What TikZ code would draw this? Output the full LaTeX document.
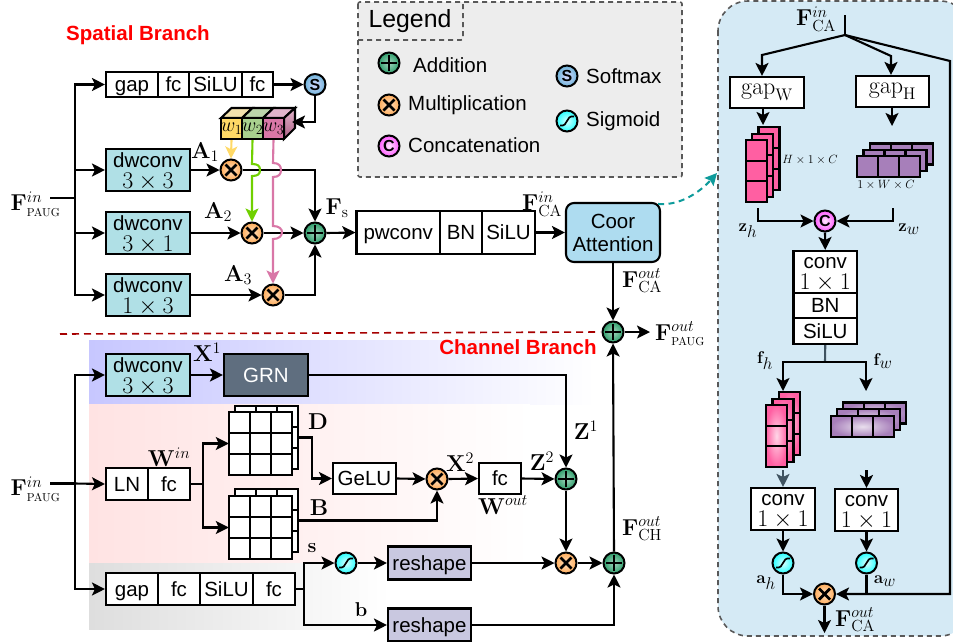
\documentclass[tikz,border=0pt]{standalone}
\usepackage{fix-cm}
\usepackage[no-math]{fontspec}
\setsansfont{Liberation Sans}
\usetikzlibrary{arrows.meta,shapes.geometric}
\newcommand\fsz[1]{\fontsize{#1}{#1}\selectfont}
\newcommand\twol[2]{\rule{0pt}{17pt}#1\\{\fontsize{24}{21}\selectfont$#2$}}
\newcommand\twolc[2]{\rule{0pt}{15pt}#1\\{\fontsize{24}{21}\selectfont$#2$}}
\definecolor{tealb}{HTML}{B0E0E6}
\definecolor{resh}{HTML}{C9C8E0}
\definecolor{pinkc}{HTML}{FF5FA2}
\definecolor{purpc}{HTML}{A77FBA}
\definecolor{panelc}{HTML}{D5EAF5}
\definecolor{addg}{HTML}{2E9E6B}
\definecolor{wyel}{HTML}{FFD966}
\definecolor{wgrn}{HTML}{A9D18E}
\definecolor{wpnk}{HTML}{D977A7}
\definecolor{argrn}{HTML}{70D000}
\definecolor{grnc}{HTML}{5F6E7F}
\definecolor{coorc}{HTML}{AEDCF0}
\definecolor{slate}{HTML}{3F5360}
\definecolor{tealc}{HTML}{0E9B9B}
\tikzset{
 ln/.style={line width=2.1pt,black},
 ar/.style={ln,-{Stealth[length=13pt,width=13pt,inset=3pt]}},
 bx/.style={draw,line width=2.1pt,fill=white,font=\sffamily\fsz{20.5},inner sep=0pt,align=center,text=black},
 bxa/.style={bx,text height=14pt,text depth=0pt},
 tealbox/.style={bx,fill=tealb,minimum width=84,minimum height=42,font=\sffamily\fontsize{20.5}{21}\selectfont},
 convbox/.style={bx,font=\sffamily\fontsize{20.5}{21}\selectfont},
 reshbox/.style={bxa,fill=resh,minimum width=83,minimum height=33},
 lab/.style={font=\fsz{23},inner sep=0pt},
 small/.style={font=\fsz{17},inner sep=0pt},
 txt/.style={font=\sffamily\fsz{20.5},inner sep=0pt,anchor=base west},
 redt/.style={font=\sffamily\bfseries\fsz{20.5},text=red,inner sep=0pt},
 sym/.style={line width=2.8pt,black},
 opc/.style={circle,draw,line width=2pt,minimum size=21pt,inner sep=0pt,shading=radial},
 opadd/.style={opc,inner color=addg!45!white,outer color=addg,path picture={\draw[sym,shift={(path picture bounding box.center)}] (-8,0)--(8,0) (0,-8)--(0,8);}},
 opmul/.style={opc,inner color=orange!25!white,outer color=orange!65!white,path picture={\draw[sym,shift={(path picture bounding box.center)}] (-5.5,-5.5)--(5.5,5.5) (-5.5,5.5)--(5.5,-5.5);}},
 opsig/.style={opc,inner color=cyan!15!white,outer color=cyan!85!white,path picture={\draw[line width=1.7pt,black,shift={(path picture bounding box.center)}] (-7,4.5) .. controls (2,6) and (-2,-6) .. (7,-4.5);}},
 ops/.style={opc,inner color=blue!15!white,outer color=blue!35!cyan!50!white!85!black,font=\sffamily\bfseries\fsz{16}},
 opcc/.style={opc,inner color=magenta!10!white,outer color=magenta!65!white,font=\sffamily\bfseries\fsz{16}},
 dsh/.style={dash pattern=on 5pt off 4pt,line width=1.6pt,draw=black!65},
 cell/.style={draw,line width=2.1pt},
}
% layer: style, x, y, cols, rows, cell width, cell height
\newcommand\layer[7]{%
 \path[#1,cell] (#2,#3) rectangle +({#4*#6},{#5*#7});
 \foreach \ci in {1,...,#4}{\ifnum\ci<#4\relax\draw[cell] ({#2+\ci*#6},#3) -- +(0,{#5*#7});\fi}
 \foreach \ci in {1,...,#5}{\ifnum\ci<#5\relax\draw[cell] (#2,{#3+\ci*#7}) -- +({#4*#6},0);\fi}
}
\begin{document}
\begin{tikzpicture}[x=1pt,y=-1pt]
\useasboundingbox (0,0) rectangle (953,641);
\clip (0,0) rectangle (953,641);
% backgrounds
\shade[left color=blue!22!white,right color=white] (89,340) rectangle (595,404);
\shade[left color=red!11!white,right color=white] (89,404) rectangle (530,563);
\shade[left color=black!13!white,right color=white] (89,563) rectangle (390,629);
\draw[dsh,fill=panelc,rounded corners=30pt] (718,1) rectangle (970,636);
\draw[dsh,fill=black!7,rounded corners=2pt] (358,2) rectangle (682,177);
\draw[dsh,rounded corners=2pt] (358,40) -- (463,40) -- (463,2);
\draw[draw=red!65!black,line width=1.6pt,dash pattern=on 7pt off 5pt] (60,334) -- (600,332);
% titles
\node[redt] (tsp) at (138,35) {Spatial Branch};
\node[redt] (tch) at (518,347) {Channel Branch};
% legend
\node[font=\sffamily\fsz{24.8},inner sep=0pt,anchor=base] (legt) at (410,27) {Legend};
\node[opadd] (la) at (389,63) {};
\node[txt] at (413,72) {Addition};
\node[opmul] (lm) at (389,105) {};
\node[txt] at (408,110.7) {Multiplication};
\node[opcc] (lc) at (389,146) {C};
\node[txt] at (408,152.7) {Concatenation};
\node[ops] (ls) at (567,76) {S};
\node[txt] at (586,83) {Softmax};
\node[opsig] (lg) at (567,121) {};
\node[txt] at (586,126.7) {Sigmoid};
% === spatial branch ===
\node[lab] (fin1) at (35.5,204) {$\mathbf{F}^{in}_{\scriptscriptstyle\mathrm{PAUG}}$};
\coordinate (b1) at (75,198);
\coordinate (fi1) at (50,198);
\node[bxa,minimum width=52,minimum height=25.5] (s1) at (132,84.5) {gap};
\node[bxa,minimum width=31,minimum height=25.5] (s2) at (173.5,84.5) {fc};
\node[bxa,minimum width=53,minimum height=25.5] (s3) at (215.5,84.5) {SiLU};
\node[bxa,minimum width=31,minimum height=25.5] (s4) at (257.5,84.5) {fc};
\node[ops] (sm) at (315,84.5) {S};
\node[tealbox] (d1) at (148,170) {\twol{dwconv}{3\times3}};
\node[tealbox] (d2) at (148,233) {\twol{dwconv}{3\times1}};
\node[tealbox] (d3) at (148,295) {\twol{dwconv}{1\times3}};
\node[opmul] (m1) at (231,170) {};
\node[opmul] (m2) at (252,233) {};
\node[opmul] (m3) at (273,295) {};
\node[opadd] (a1) at (315,233) {};
\draw[ln] (fi1) -- (b1);
\draw[ar] (b1) |- (s1.west);
\draw[ar] (b1) |- (d1.west);
\draw[ar] (b1) |- (d2.west);
\draw[ar] (b1) |- (d3.west);
\draw[ar] (s4.east) -- (sm.west);
\draw[ar] (d1.east) -- (m1.west);
\draw[ar] (d2.east) -- (m2.west);
\draw[ar] (d3.east) -- (m3.west);
\draw[ar] (m1.east) -| (a1.north);
\draw[ar] (m2.east) -- (a1.west);
\draw[ar] (m3.east) -| (a1.south);
% cube
\draw[ln,fill=wyel!50!white!90!gray] (221,118) -- (231.5,108) -- (252.5,108) -- (242,118) -- cycle;
\draw[ln,fill=wgrn!70!white!90!gray] (242,118) -- (252.5,108) -- (273.5,108) -- (263,118) -- cycle;
\draw[ln,fill=wpnk!50!white!90!gray] (263,118) -- (273.5,108) -- (295,108) -- (284,118) -- cycle;
\shade[ln,draw,top color=wpnk!50!white!90!gray,bottom color=wpnk!80!black] (284,118) -- (295,108) -- (295,128) -- (284,139) -- cycle;
\node[draw,line width=2.1pt,fill=wyel,minimum width=21,minimum height=21,inner sep=0pt,font=\fsz{20}] (w1) at (231.5,128.5) {$w_1$};
\node[draw,line width=2.1pt,fill=wgrn,minimum width=21,minimum height=21,inner sep=0pt,font=\fsz{20}] (w2) at (252.5,128.5) {$w_2$};
\node[draw,line width=2.1pt,fill=wpnk,minimum width=21,minimum height=21,inner sep=0pt,font=\fsz{20}] (w3) at (273.5,128.5) {$w_3$};
\coordinate (cubein) at (292,122);
\draw[ar] (sm.south) |- (cubein);
\draw[ar,draw=wyel,-{Stealth[length=12pt,width=12pt,inset=3pt,fill=wyel]}] (w1.south) -- (m1.north);
\draw[ar,draw=argrn] (w2.south) -- (252,164) .. controls (258,164) and (260,166) .. (260,170) .. controls (260,174) and (258,176) .. (252,176) -- (m2.north);
\draw[ar,draw=wpnk] (w3.south) -- (273,163) .. controls (279,163) and (281,166) .. (281,170) .. controls (281,174) and (279,177) .. (273,177) -- (273,226) .. controls (279,226) and (282,229) .. (282,232) .. controls (282,236) and (279,239) .. (273,239) -- (m3.north);
\node[lab] (la1) at (205,152) {$\mathbf{A}_1$};
\node[lab] (la2) at (218,212) {$\mathbf{A}_2$};
\node[lab] (la3) at (238,275) {$\mathbf{A}_3$};
\node[lab] (lfs) at (337,208) {$\mathbf{F}_{\mathrm{s}}$};
% pwconv row
\node[bxa,minimum width=83.5,minimum height=43] (p1) at (398.25,232.5) {pwconv};
\node[bxa,minimum width=42,minimum height=43] (p2) at (461,232.5) {BN};
\node[bxa,minimum width=53,minimum height=43] (p3) at (508.5,232.5) {SiLU};
\draw[ar] (a1.east) -- (p1.west);
\node[bx,fill=coorc,rounded corners=8pt,minimum width=94,minimum height=59,font=\sffamily\fontsize{20.5}{23}\selectfont] (coor) at (613,232.5) {Coor\\Attention};
\draw[ar] (p3.east) -- (coor.west);
\node[lab] (lci) at (542,204) {$\mathbf{F}^{in}_{\mathrm{CA}}$};
\node[lab] (lco) at (642,281) {$\mathbf{F}^{out}_{\mathrm{CA}}$};
\node[opadd] (am) at (613,332) {};
\draw[ar] (coor.south) -- (am.north);
\coordinate (pout) at (650,332);
\draw[ar] (am.east) -- (pout);
\node[lab] (lpo) at (680,334) {$\mathbf{F}^{out}_{\scriptscriptstyle\mathrm{PAUG}}$};
\coordinate (panelin) at (717,173);
\draw[draw=tealc,line width=2pt,dash pattern=on 6pt off 4.5pt,-{Stealth[length=12pt,width=12pt,inset=2pt,fill=tealc]}] (coor.north east) ++(-3,2) .. controls (680,206) and (700,192) .. (panelin);
% === channel branch ===
\node[lab] (fin2) at (35.5,489) {$\mathbf{F}^{in}_{\scriptscriptstyle\mathrm{PAUG}}$};
\coordinate (fi2) at (50,483.5);
\coordinate (b2) at (75,483.5);
\node[tealbox] (c1) at (148,375) {\twol{dwconv}{3\times3}};
\node[bxa,fill=grnc,text=white,minimum width=84,minimum height=42] (grn) at (266,375) {GRN};
\node[bxa,minimum width=42,minimum height=32] (ln1) at (127,484) {LN};
\node[bxa,minimum width=42,minimum height=32] (fc1) at (169,484) {fc};
\draw[ln] (fi2) -- (b2);
\draw[ar] (b2) -- (ln1.west);
\node[bxa,minimum width=52,minimum height=32] (g1) at (132,589) {gap};
\node[bxa,minimum width=42,minimum height=32] (g2) at (179,589) {fc};
\node[bxa,minimum width=53,minimum height=32] (g3) at (226.5,589) {SiLU};
\node[bxa,minimum width=42,minimum height=32] (g4) at (274,589) {fc};
\draw[ar] (b2) |- (c1.west);
\draw[ar] (b2) |- (g1.west);
\draw[ar] (c1.east) -- (grn.west);
\node[lab] (lx1) at (207,352) {$\mathbf{X}^1$};
\node[lab] (lwi) at (169,457) {$\mathbf{W}^{in}$};
% D, B grids
\node[draw=none,minimum width=63,minimum height=63,inner sep=0pt] (Db) at (266.5,437.5) {};
\node[draw=none,minimum width=63,minimum height=63,inner sep=0pt] (Bb) at (266.5,520.5) {};
\node[draw=none,minimum width=63,minimum height=63,inner sep=0pt] (Df) at (260.5,443.5) {};
\node[draw=none,minimum width=63,minimum height=63,inner sep=0pt] (Bf) at (260.5,527.5) {};
\layer{fill=white}{235}{406}{3}{3}{21}{21}
\layer{fill=white}{229}{412}{3}{3}{21}{21}
\layer{fill=white}{235}{489}{3}{3}{21}{21}
\layer{fill=white}{229}{496}{3}{3}{21}{21}
\coordinate (sp) at (203,484);
\draw[ln] (fc1.east) -- (sp);
\draw[ar] (sp) |- (Df.west);
\draw[ar] (sp) |- (Bf.west);
\node[lab] (lD) at (318,422) {$\mathbf{D}$};
\node[lab] (lB) at (319,508) {$\mathbf{B}$};
\node[bxa,minimum width=63,minimum height=31] (gelu) at (364.5,478.5) {GeLU};
\node[opmul] (mx) at (437,479) {};
\node[bxa,minimum width=42,minimum height=31] (fc2) at (500,478.5) {fc};
\node[opadd] (az) at (566,479) {};
\coordinate (dj) at (312,478.5);
\draw[ar] (Db.east) -| (dj) -- (gelu.west);
\draw[ar] (Bb.east) -| (mx.south);
\draw[ar] (gelu.east) -- (mx.west);
\draw[ar] (mx.east) -- (fc2.west);
\draw[ar] (fc2.east) -- (az.west);
\draw[ar] (grn.east) -| (az.north);
\node[lab] (lx2) at (460,462) {$\mathbf{X}^2$};
\node[lab] (lz2) at (542,461) {$\mathbf{Z}^2$};
\node[lab] (lz1) at (586,430) {$\mathbf{Z}^1$};
\node[lab] (lwo) at (503,505) {$\mathbf{W}^{out}$};
\coordinate (sp2) at (304,589);
\draw[ln] (g4.east) -- (sp2);
\node[opsig] (sg) at (346,563) {};
\node[reshbox] (r1) at (429.5,563) {reshape};
\node[reshbox] (r2) at (429.5,625) {reshape};
\draw[ar] (sp2) |- (sg.west);
\draw[ar] (sp2) |- (r2.west);
\draw[ar] (sg.east) -- (r1.west);
\node[lab,font=\fsz{20}] (ls1) at (312,548) {$\mathbf{s}$};
\node[lab,font=\fsz{20}] (lb1) at (361,610) {$\mathbf{b}$};
\node[opmul] (mz) at (566,563) {};
\node[opadd] (ac) at (614,563) {};
\draw[ar] (az.south) -- (mz.north);
\draw[ar] (r1.east) -- (mz.west);
\draw[ar] (mz.east) -- (ac.west);
\draw[ar] (r2.east) -| (ac.south);
\draw[ar] (ac.north) -- (am.south);
\node[lab] (lch) at (642,529) {$\mathbf{F}^{out}_{\mathrm{CH}}$};
% === panel ===
\node[lab] (pfi) at (816,19) {$\mathbf{F}^{in}_{\mathrm{CA}}$};
\coordinate (ft) at (845,15);
\coordinate (fan) at (845,35);
\coordinate (fl) at (762,55);
\coordinate (fr) at (891,56);
\node[bx,minimum width=74,minimum height=31,font=\fsz{24}] (gw) at (767,92.5) {$\mathrm{gap}_{\mathrm{W}}$};
\node[bx,minimum width=73,minimum height=31,font=\fsz{24}] (gh) at (892.5,91.5) {$\mathrm{gap}_{\mathrm{H}}$};
\draw[ln] (ft) -- (fan);
\draw[ar] (fan) -- (fl) -- (fl |- gw.north);
\draw[ar] (fan) -- (fr) -- (fr |- gh.north);
\coordinate (zwb) at (763,125);
\coordinate (zhb) at (892,126);
\draw[ar] (zwb |- gw.south) -- (zwb);
\draw[ar] (zhb |- gh.south) -- (zhb);
\layer{fill=pinkc}{758.5}{127}{1}{3}{21}{21}
\layer{fill=pinkc}{752}{134}{1}{3}{21}{21}
\layer{fill=pinkc}{746}{140}{1}{3}{21}{20.7}
\layer{fill=purpc}{870}{143.5}{3}{1}{21}{21}
\layer{fill=purpc}{863.5}{150}{3}{1}{21}{21}
\layer{fill=purpc}{857}{156}{3}{1}{21}{21}
\node[font=\fsz{12},inner sep=0pt] (l1) at (810,160) {$H\times1\times C$};
\node[font=\fsz{12},inner sep=0pt] (l2) at (886,185) {$1\times W\times C$};
\node[opcc] (cc) at (825,221) {C};
\coordinate (zh0) at (758,208);
\coordinate (zw0) at (893,208);
\draw[ar] (zh0) |- (cc.west);
\draw[ar] (zw0) |- (cc.east);
\node[small] (lzh) at (748,231) {$\mathbf{z}_{\textstyle h}$};
\node[small] (lzw) at (909,229) {$\mathbf{z}_{\textstyle w}$};
\node[convbox,minimum width=63.5,minimum height=42] (pc) at (825.25,272) {\twolc{conv}{1\times1}};
\node[bxa,minimum width=63.5,minimum height=25] (pb) at (825.25,305.5) {BN};
\node[bxa,minimum width=63.5,minimum height=26] (ps) at (825.25,331) {SiLU};
\draw[ar] (cc.south) -- (pc.north);
\coordinate (sp3) at (825,362);
\coordinate (fh0) at (783,391);
\coordinate (fw0) at (866,391);
\draw[ln,draw=slate] (ps.south) -- (sp3);
\draw[ar] (sp3) -| (fh0);
\draw[ar] (sp3) -| (fw0);
\node[small] (lfh) at (765,361) {$\mathbf{f}_{\textstyle h}$};
\node[small] (lfw) at (883,361) {$\mathbf{f}_{\textstyle w}$};
\layer{inner color=white!75!pinkc,outer color=pinkc}{779}{392}{1}{3}{21}{21}
\layer{inner color=white!75!pinkc,outer color=pinkc}{772.5}{399}{1}{3}{21}{21}
\layer{inner color=white!75!pinkc,outer color=pinkc}{766}{405}{1}{3}{21}{20.7}
\layer{inner color=white!75!purpc,outer color=purpc}{843}{402.5}{3}{1}{21}{21}
\layer{inner color=white!75!purpc,outer color=purpc}{837}{409}{3}{1}{21}{21}
\layer{inner color=white!75!purpc,outer color=purpc}{831}{416}{3}{1}{21}{21}
\node[convbox,minimum width=64,minimum height=42] (ch) at (783,509) {\twolc{conv}{1\times1}};
\node[convbox,minimum width=63,minimum height=42] (cw) at (866.5,510) {\twolc{conv}{1\times1}};
\coordinate (h0) at (783,470);
\coordinate (w0) at (866.5,470);
\draw[ar,draw=slate] (h0) -- (ch.north);
\draw[ar] (w0) -- (cw.north);
\node[opsig] (sh) at (783,563) {};
\node[opsig] (sw) at (866.5,563) {};
\draw[ar] (ch.south) -- (sh.north);
\draw[ar] (cw.south) -- (sw.north);
\node[opmul] (mc) at (824.5,594) {};
\draw[ar] (sh.south) |- (mc.west);
\draw[ln] (sw.south) -- (sw.south |- mc.east);
\draw[ar] (fan) -- (950,61) -- (950,594) -- (mc.east);
\coordinate (po) at (824.5,633);
\draw[ar] (mc.south) -- (po);
\node[small] (lah) at (766,583) {$\mathbf{a}_{\textstyle h}$};
\node[small] (law) at (885,581) {$\mathbf{a}_{\textstyle w}$};
\node[lab] (lpf) at (855,620) {$\mathbf{F}^{out}_{\mathrm{CA}}$};
\end{tikzpicture}
\end{document}
